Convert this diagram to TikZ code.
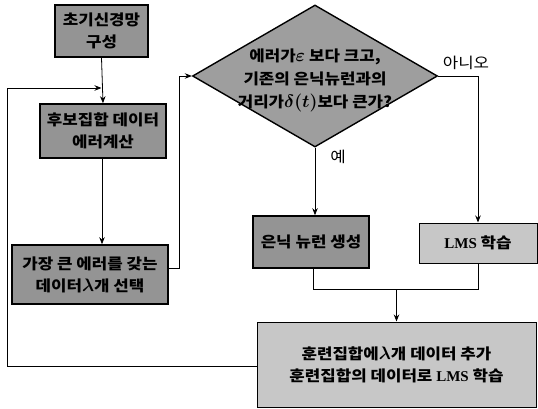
\documentclass[tikz,border=0pt]{standalone}
\usepackage{fontspec}
\newfontfamily\kr[FakeStretch=1.12]{Noto Sans CJK KR}
\newfontfamily\krr[FakeStretch=1.12]{Noto Sans CJK KR}
\newfontfamily\tms{Liberation Serif}
\usetikzlibrary{shapes.geometric,arrows.meta}
\newcommand{\gk}[1]{\scalebox{1.25}{$#1$}}
\begin{document}
\begin{tikzpicture}[x=1pt,y=-1pt,
  darkbox/.style={draw=black,line width=1.6pt,fill=black!42,inner sep=0pt,align=center,
     font=\kr\bfseries\boldmath\fontsize{15}{22}\selectfont},
  lightbox/.style={draw=black,line width=1pt,fill=black!22,inner sep=0pt,align=center,
     font=\kr\bfseries\boldmath\fontsize{15}{22}\selectfont},
  conn/.style={line width=0.8pt},
  arr/.style={conn,-{Stealth[length=7pt,width=5.5pt]}},
  lbl/.style={font=\krr\fontsize{15}{17}\selectfont,inner sep=0pt}]
\useasboundingbox (0,0) rectangle (538,409);

\node[darkbox,minimum width=93,minimum height=52] (b1) at (101.5,31) {초기신경망\\구성};
\node[darkbox,minimum width=126,minimum height=54] (b2) at (103,131) {후보집합 데이터\\에러계산};
\node[darkbox,minimum width=156,minimum height=59] (b3) at (90,274.5) {가장 큰 에러를 갖는\\데이터\gk{\lambda}개 선택};

\node[diamond,draw=black,line width=1.4pt,fill=black!38,minimum width=245,minimum height=142,inner sep=0pt] (d) at (315,76) {};
\node[align=center,inner sep=0pt,font=\kr\bfseries\boldmath\fontsize{15}{23}\selectfont] (dt) at (315,80)
  {에러가\gk{\varepsilon} 보다 크고,\\기존의 은닉뉴런과의\\거리가\gk{\delta(t)}보다 큰가?};

\node[darkbox,minimum width=116,minimum height=52] (n1) at (311,242) {은닉 뉴런 생성};
\node[lightbox,minimum width=118,minimum height=40] (n2) at (478,243) {{\tms\bfseries LMS} 학습};
\node[lightbox,minimum width=279,minimum height=85] (n3) at (396.5,364.5)
  {훈련집합에\gk{\lambda}개 데이터 추가\\훈련집합의 데이터로 {\tms\bfseries LMS} 학습};

\node[lbl] (no) at (466,63) {아니오};
\node[lbl] (yes) at (338,157) {예};

\coordinate (m) at (b1.south |- 0,88);
\coordinate (j) at (n3.north |- 0,289);

\draw[arr] (b1.south) -- (b2.north);
\draw[arr] (b2.south -| 102,0) -- (b3.north -| 102,0);
\draw[arr] (b3.east |- 0,268) -- (179,268) -- (179,76) -- (d.west);
\draw[arr] (d.east) -| (n2.north);
\draw[arr] (d.south) -- (d.south |- n1.north);
\draw[conn] (n1.south -| 313,0) -- (313,289) -| (n2.south);
\draw[arr] (j) -- (n3.north);
\draw[arr] (n3.west |- 0,366) -- (7,366) -- (7,88) -- (m);
\end{tikzpicture}
\end{document}
